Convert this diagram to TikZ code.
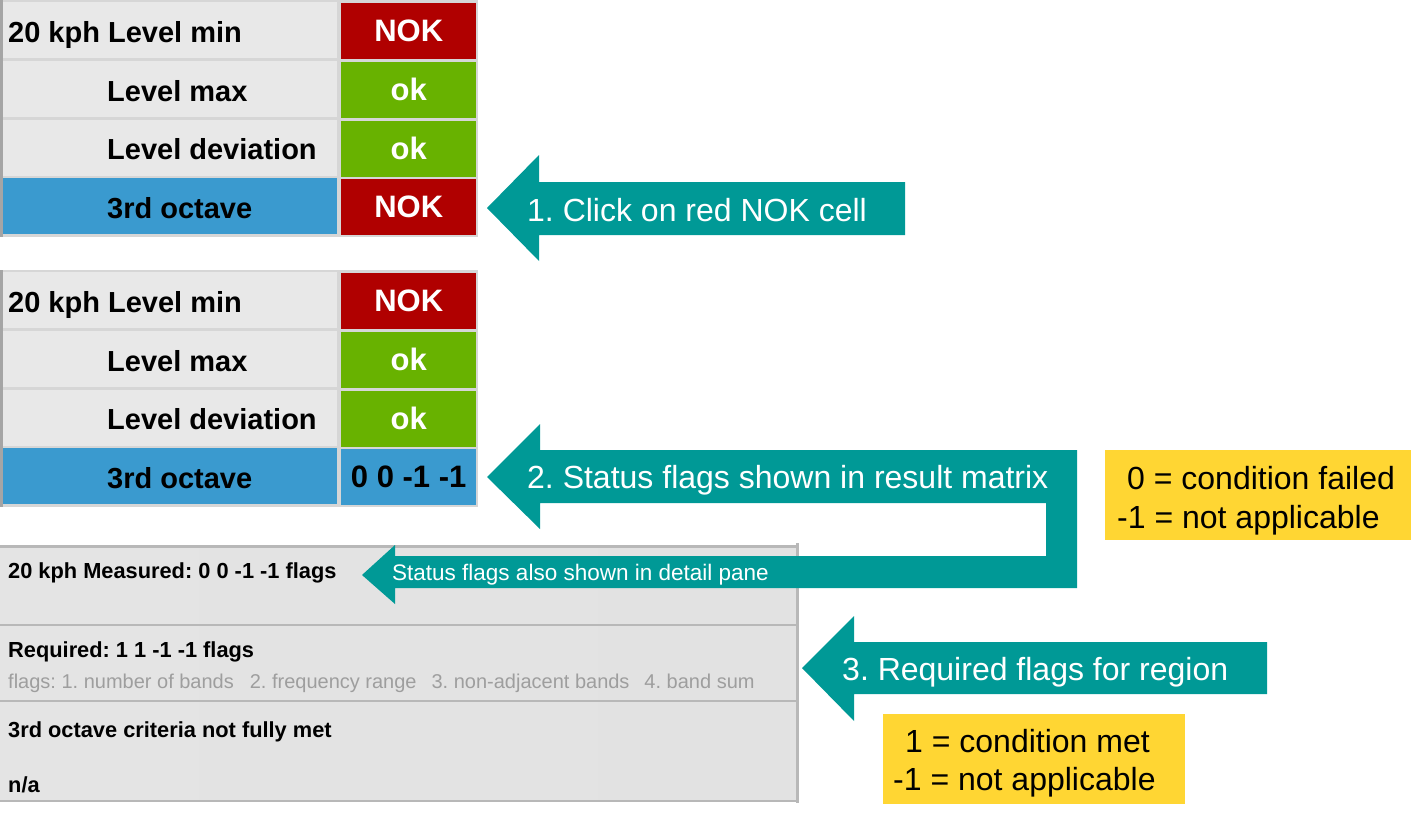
\documentclass[tikz,border=0pt]{standalone}
\usepackage{fontspec}
\setmainfont{Liberation Sans}
\usepackage{tikz}
\frenchspacing
\newcommand{\fsz}[1]{\fontsize{#1}{#1}\selectfont}
\definecolor{nokred}{RGB}{176,0,0}
\definecolor{okgreen}{RGB}{104,178,0}
\definecolor{selblue}{RGB}{58,154,207}
\definecolor{rowgray}{RGB}{232,232,232}
\definecolor{gapgray}{RGB}{214,214,214}
\definecolor{edgegray}{RGB}{165,165,165}
\definecolor{calloutteal}{RGB}{0,153,150}
\definecolor{keyyellow}{RGB}{255,214,51}
\definecolor{paneleft}{RGB}{228,228,228}
\definecolor{panemid}{RGB}{240,240,240}
\definecolor{paneright}{RGB}{226,226,226}
\definecolor{panerule}{RGB}{184,184,184}
\definecolor{hintgray}{RGB}{158,158,158}

\begin{document}
\begin{tikzpicture}[x=1pt, y=-1pt,
    txt/.style={inner sep=0pt, anchor=base west},
    rowlbl/.style={txt, font=\bfseries\fsz{29}},
    cellbox/.style={anchor=north west, inner sep=0pt, minimum height=56pt},
    valbox/.style={cellbox, minimum width=135pt, font=\bfseries\fsz{31}},
    callout/.style={fill=calloutteal},
    calltxt/.style={txt, text=white, font=\fsz{32}},
    keybox/.style={fill=keyyellow, anchor=north west, inner sep=0pt, minimum height=90pt},
    keytxt/.style={txt, font=\fsz{32}},
    panetxt/.style={txt, font=\bfseries\fsz{21.8}}]
  \useasboundingbox (0,0) rectangle (1419,819);

  % result matrix, before and after the click
  \foreach \t/\oy/\lastval/\lastcol/\lasttxt in {1/0/NOK/nokred/white, 2/270/{0 0 -1 -1}/selblue/black} {
    \fill[gapgray] (0,\oy) rectangle (478,237+\oy);
    \fill[edgegray] (0,\oy) rectangle (3,237+\oy);
    \foreach \lbl/\x/\lcol/\val/\vcol/\vtxt [count=\i] in {
        20 kph Level min/8/rowgray/NOK/nokred/white,
        Level max/107/rowgray/ok/okgreen/white,
        Level deviation/107/rowgray/ok/okgreen/white,
        3rd octave/107/selblue/\lastval/\lastcol/\lasttxt} {
      \pgfmathsetmacro\ry{2+58.7*(\i-1)+\oy}
      \node[cellbox, minimum width=334pt, fill=\lcol] (cell\t\i) at (3,\ry) {};
      \node[rowlbl] (lbl\t\i) at (\x,\ry+40.5) {\lbl};
      \node[valbox, fill=\vcol, text=\vtxt] (val\t\i) at (341,\ry+1) {\val};
    }
  }

  % detail pane
  \fill[left color=paneleft, middle color=panemid, right color=paneright] (0,546) rectangle (797,801);
  \draw[panerule, line width=3pt] (0,546) -- (797,546);
  \draw[panerule, line width=2pt] (0,625) -- (797,625);
  \draw[panerule, line width=2pt] (0,701) -- (797,701);
  \draw[panerule, line width=2pt] (0,801) -- (799,801);
  \draw[panerule, line width=3pt] (797,543) -- (797,803);

  \node[panetxt] (meas) at (8,578) {20 kph Measured: 0 0 -1 -1 flags};
  \node[panetxt] (req) at (8,657) {Required: 1 1 -1 -1 flags};
  \node[txt, text=hintgray, font=\fsz{20}] (hint) at (8,688)
    {flags: 1. number of bands\hspace{16pt}2. frequency range\hspace{15pt}3. non-adjacent bands\hspace{15pt}4. band sum};
  \node[panetxt] (crit) at (8,737) {3rd octave criteria not fully met};
  \node[panetxt] (na) at (8,792) {n/a};

  % block arrows
  \coordinate (tip1) at (487,208);
  \coordinate (tip2) at (487,477);
  \coordinate (tip2b) at (362,575);
  \coordinate (tip3) at (802,668);

  \fill[callout] (tip1) -- ++(52,-53) -- ++(0,27) -- ++(366,0) -- ++(0,53)
    -- ++(-366,0) -- ++(0,26) -- cycle;
  \fill[callout] (tip2) -- ++(53,-53) -- ++(0,26) -- ++(537,0) -- ++(0,138)
    -- ++(-682,0) -- ++(0,16) -- (tip2b) -- ++(33,-30) -- ++(0,11)
    -- ++(651,0) -- ++(0,-53) -- ++(-506,0) -- ++(0,26) -- cycle;
  \fill[callout] (tip3) -- ++(52,-52) -- ++(0,26) -- ++(413,0) -- ++(0,52)
    -- ++(-413,0) -- ++(0,27) -- cycle;

  \node[calltxt] (step1) at (527,221) {1. Click on red NOK cell};
  \node[calltxt] (step2) at (527,488) {2. Status flags shown in result matrix};
  \node[calltxt, font=\fsz{22.5}] (step2b) at (392,580) {Status flags also shown in detail pane};
  \node[calltxt] (step3) at (842,680) {3. Required flags for region};

  % flag keys
  \node[keybox, minimum width=306pt] (key1) at (1105,450) {};
  \node[keytxt] (key1a) at (1127,489.5) {0 = condition failed};
  \node[keytxt] (key1b) at (1117,528.5) {-1 = not applicable};
  \node[keybox, minimum width=302pt] (key2) at (883,714) {};
  \node[keytxt] (key2a) at (905,752.5) {1 = condition met};
  \node[keytxt] (key2b) at (893,790.5) {-1 = not applicable};
\end{tikzpicture}
\end{document}
